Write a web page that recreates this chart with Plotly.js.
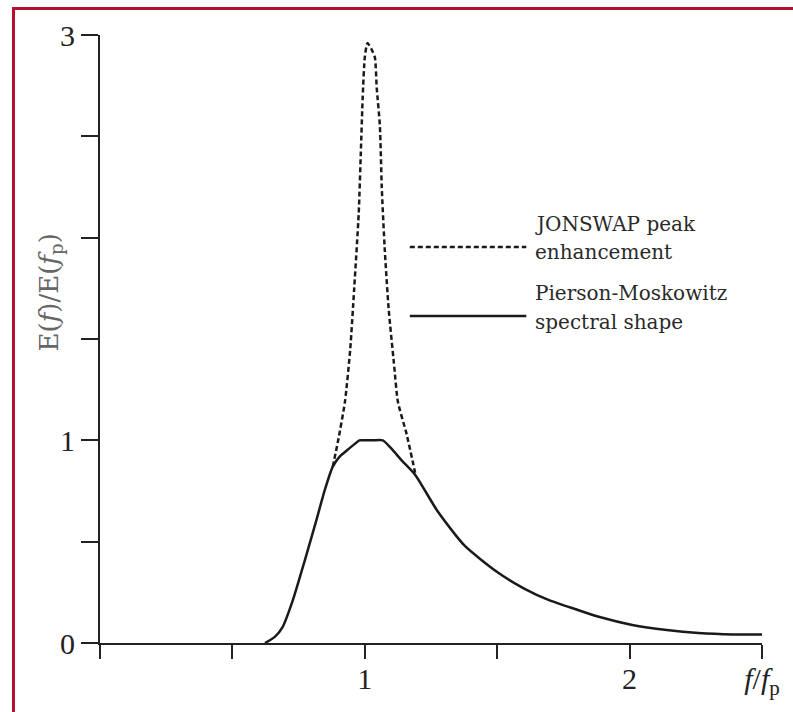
<!DOCTYPE html>
<html>
<head>
<meta charset="utf-8">
<script src="https://cdn.plot.ly/plotly-3.0.1.min.js"></script>
<style>
  html, body { margin: 0; padding: 0; background: #fff; }
  #chart { width: 793px; height: 712px; position: relative; }
  #frame { position: absolute; left: 12px; top: 7px; width: 820px; height: 740px;
           border-left: 3px solid #b3112e; border-top: 3px solid #b3112e;
           pointer-events: none; z-index: 10; }
</style>
</head>
<body>
<div id="chart"></div>
<div id="frame"></div>
<script>
// Pierson-Moskowitz spectral shape (solid)
const pmFreq = [0.623, 0.66, 0.69, 0.728, 0.774, 0.818, 0.849, 0.879, 0.905, 0.932, 0.96, 0.98, 1.0, 1.03, 1.068, 1.1, 1.14, 1.19, 1.275, 1.377, 1.5, 1.6, 1.698, 1.8, 1.887, 2.01, 2.14, 2.26, 2.39, 2.51];
const pmEnergy = [0, 0.03, 0.08, 0.21, 0.41, 0.61, 0.755, 0.87, 0.92, 0.95, 0.98, 1.0, 1.0, 1.0, 1.0, 0.96, 0.9, 0.83, 0.65, 0.48, 0.35, 0.27, 0.21, 0.165, 0.128, 0.089, 0.064, 0.049, 0.042, 0.042];

// JONSWAP peak enhancement (dashed)
const jsFreq = [0.879, 0.898, 0.925, 0.945, 0.96, 0.977, 0.985, 0.992, 1.0, 1.01, 1.025, 1.038, 1.045, 1.057, 1.064, 1.075, 1.09, 1.11, 1.125, 1.158, 1.19];
const jsEnergy = [0.87, 0.99, 1.19, 1.45, 1.75, 2.12, 2.42, 2.69, 2.89, 2.96, 2.93, 2.89, 2.74, 2.55, 2.25, 1.95, 1.65, 1.38, 1.19, 1.03, 0.84];

const xTickVals = [0, 0.5, 1, 1.5, 2, 2.5];
const xTickText = ['', '', '1', '', '2', '<i>f</i>/<i>f</i><sub>p</sub>'];
const yTickVals = [0, 0.5, 1, 1.5, 2, 2.5, 3];
const yTickText = ['0', '', '1', '', '', '', '3'];

const legendJS = ['JONSWAP peak', 'enhancement'];
const legendPM = ['Pierson-Moskowitz', 'spectral shape'];
const yTitle = 'E(<i>f</i>)/E(<i>f</i><sub>p</sub>)';

const ink = '#1a1a1a';
const serif = 'Liberation Serif, Times New Roman, serif';
const wideSerif = 'DejaVu Serif, serif';

const traces = [
  { x: pmFreq, y: pmEnergy, mode: 'lines', line: { color: ink, width: 2.5, shape: 'spline', smoothing: 0.6 }, hoverinfo: 'skip', showlegend: false },
  { x: jsFreq, y: jsEnergy, mode: 'lines', line: { color: ink, width: 2.5, dash: '5px,3px', shape: 'spline', smoothing: 0.6 }, hoverinfo: 'skip', showlegend: false }
];

const axisCommon = {
  showline: true, linecolor: '#222', linewidth: 2,
  ticks: 'outside', tickwidth: 2, tickcolor: '#222',
  showgrid: false, zeroline: false, fixedrange: true,
  tickfont: { family: serif, size: 30, color: '#222' }
};

const layout = {
  width: 793, height: 712,
  margin: { l: 100, r: 31, t: 35, b: 69 },
  paper_bgcolor: '#fff', plot_bgcolor: '#fff',
  showlegend: false,
  xaxis: Object.assign({}, axisCommon, { range: [0, 2.5], tickvals: xTickVals, ticktext: xTickText, ticklen: 14, ticklabelstandoff: -6 }),
  yaxis: Object.assign({}, axisCommon, { range: [0, 3], tickvals: yTickVals, ticktext: yTickText, ticklen: 17 }),
  shapes: [
    { type: 'line', xref: 'paper', yref: 'y', x0: -0.026, x1: 0, y0: 0, y1: 0, line: { color: '#222', width: 2 } },
    { type: 'line', xref: 'x', yref: 'y', x0: 1.17, x1: 1.61, y0: 1.954, y1: 1.954, line: { color: ink, width: 2.5, dash: '5px,3px' } },
    { type: 'line', xref: 'x', yref: 'y', x0: 1.17, x1: 1.61, y0: 1.613, y1: 1.613, line: { color: ink, width: 2.5 } }
  ],
  annotations: [
    { xref: 'x', yref: 'y', x: 1.637, y: 2.067, xanchor: 'left', yanchor: 'middle', showarrow: false, text: legendJS[0], font: { family: wideSerif, size: 20, color: '#2a2a2a' } },
    { xref: 'x', yref: 'y', x: 1.637, y: 1.93, xanchor: 'left', yanchor: 'middle', showarrow: false, text: legendJS[1], font: { family: wideSerif, size: 20, color: '#2a2a2a' } },
    { xref: 'x', yref: 'y', x: 1.637, y: 1.727, xanchor: 'left', yanchor: 'middle', showarrow: false, text: legendPM[0], font: { family: wideSerif, size: 20, color: '#2a2a2a' } },
    { xref: 'x', yref: 'y', x: 1.637, y: 1.584, xanchor: 'left', yanchor: 'middle', showarrow: false, text: legendPM[1], font: { family: wideSerif, size: 20, color: '#2a2a2a' } },
    { xref: 'paper', yref: 'y', x: -0.0755, y: 1.73, xanchor: 'center', yanchor: 'middle', textangle: -90, showarrow: false, text: yTitle, font: { family: wideSerif, size: 26, color: '#666' } }
  ]
};

Plotly.newPlot('chart', traces, layout, { displayModeBar: false, staticPlot: true });
</script>
</body>
</html>
